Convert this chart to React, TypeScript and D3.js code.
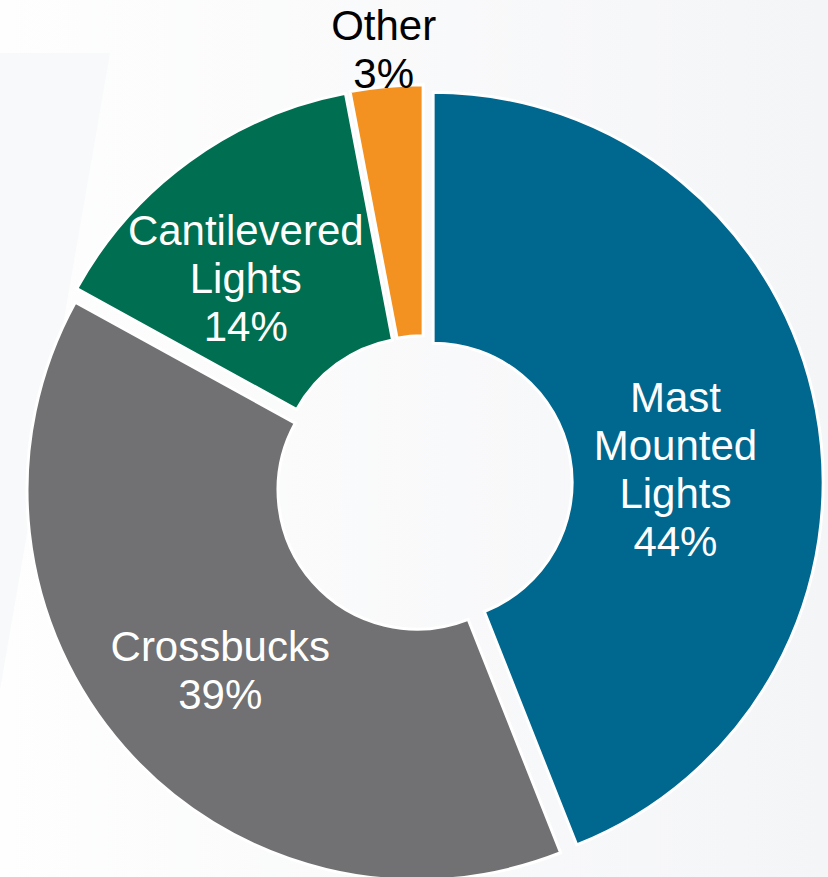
import React, { useEffect, useRef } from 'react';
import * as d3 from 'd3';

// chart data
const categories = ['Mast Mounted Lights', 'Crossbucks', 'Cantilevered Lights', 'Other'];
const shares = [44, 39, 14, 3];
const sliceColors = ['#00678f', '#717073', '#006f51', '#f39221'];

// small hand tweaks so the labels sit where the original put them
const labelNudge: Array<[number, number]> = [[-18, 36], [2, 4], [-17, 16], [1, 2]];

const WIDTH = 828;
const HEIGHT = 877;

export default function App() {
  const svgRef = useRef<SVGSVGElement>(null);

  useEffect(() => {
    if (!svgRef.current) return;
    const svg = d3.select(svgRef.current);
    svg.selectAll('*').remove();

    const cx = 424;
    const cy = 484;
    const outerR = 390;
    const innerR = 139;
    const explode = 9.3;
    const lineHeight = 48;
    const fontSize = 42;

    // background
    const defs = svg.append('defs');
    const bg = defs.append('linearGradient')
      .attr('id', 'bg-grad')
      .attr('x1', '0%').attr('y1', '0%')
      .attr('x2', '100%').attr('y2', '0%');
    bg.append('stop').attr('offset', '0%').attr('stop-color', '#fefefe');
    bg.append('stop').attr('offset', '100%').attr('stop-color', '#f4f5f7');

    svg.append('rect')
      .attr('width', WIDTH)
      .attr('height', HEIGHT)
      .attr('fill', 'url(#bg-grad)');

    // faint backdrop shape on the left
    svg.append('path')
      .attr('d', 'M0,53 L110,53 L0,690 Z')
      .attr('fill', '#f8f9fa');

    const data = categories.map((name, i) => ({ name, share: shares[i], color: sliceColors[i], i }));

    const pie = d3.pie<any>()
      .value(d => d.share)
      .sort(null)
      .startAngle(0)
      .endAngle(2 * Math.PI);

    const arcs = pie(data);

    const arc = d3.arc<any>()
      .innerRadius(innerR)
      .outerRadius(outerR);

    const insideLabelArc = d3.arc<any>()
      .innerRadius(265)
      .outerRadius(265);

    const outsideLabelArc = d3.arc<any>()
      .innerRadius(430)
      .outerRadius(430);

    const g = svg.append('g')
      .attr('transform', `translate(${cx},${cy})`);

    // every slice is pulled out a little along its middle angle
    const shift = (d: any) => {
      const mid = (d.startAngle + d.endAngle) / 2;
      return [Math.sin(mid) * explode, -Math.cos(mid) * explode];
    };

    // slices
    g.selectAll('path.slice')
      .data(arcs)
      .enter()
      .append('path')
      .attr('class', 'slice')
      .attr('transform', d => {
        const [dx, dy] = shift(d);
        return `translate(${dx},${dy})`;
      })
      .attr('d', arc)
      .attr('fill', d => d.data.color)
      .attr('stroke', '#ffffff')
      .attr('stroke-width', 3)
      .attr('stroke-linejoin', 'miter');

    // labels
    arcs.forEach(d => {
      const outside = d.data.share < 5;
      const [dx, dy] = shift(d);
      const [lx, ly] = (outside ? outsideLabelArc : insideLabelArc).centroid(d);
      const [nx, ny] = labelNudge[d.data.i];
      const x = lx + dx + nx;
      const y = ly + dy + ny;
      const lines = [...d.data.name.split(' '), `${d.data.share}%`];
      const firstBaseline = y - ((lines.length - 1) / 2) * lineHeight + fontSize * 0.36;

      const text = g.append('text')
        .attr('text-anchor', 'middle')
        .attr('font-family', '"Liberation Sans", Arial, sans-serif')
        .attr('font-size', fontSize)
        .attr('fill', outside ? '#000000' : '#ffffff');

      lines.forEach((line, k) => {
        text.append('tspan')
          .attr('x', x)
          .attr('y', firstBaseline + k * lineHeight)
          .text(line);
      });
    });
  }, []);

  return (
    <div style={{ position: 'absolute', left: 0, top: 0, width: WIDTH, height: HEIGHT, overflow: 'hidden' }}>
      <svg ref={svgRef} width={WIDTH} height={HEIGHT} style={{ display: 'block' }}></svg>
    </div>
  );
}
